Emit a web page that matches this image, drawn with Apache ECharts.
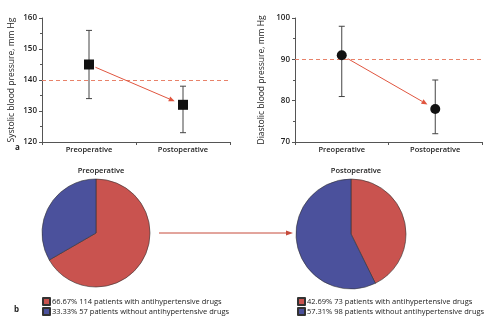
<!DOCTYPE html>
<html>
<head>
<meta charset="utf-8">
<script src="https://cdn.jsdelivr.net/npm/echarts@6/dist/echarts.min.js"></script>
<style>
  html, body { margin: 0; padding: 0; background: #fff; }
  #chart { width: 496px; height: 331px; }
</style>
</head>
<body>
<div id="chart"></div>
<script>
const bpCategories = ['Preoperative', 'Postoperative'];

const sysMean = [145, 132];
const sysLow = [134, 123];
const sysHigh = [156, 138];
const sysThreshold = 140;

const diaMean = [91, 78];
const diaLow = [81, 72];
const diaHigh = [98, 85];
const diaThreshold = 90;

const pieGroups = ['patients with antihypertensive drugs', 'patients without antihypertensive drugs'];
const prePercent = ['66.67%', '33.33%'];
const preCounts = [114, 57];
const postPercent = ['42.69%', '57.31%'];
const postCounts = [73, 98];

const FONT = '"Open Sans", sans-serif';
const AXIS_COLOR = '#555';
const RED = '#c9534f';
const BLUE = '#4b519c';
const ARROW = '#e0553f';
const DASH = '#e8826a';

const chart = echarts.init(document.getElementById('chart'));

// vertical whisker with small caps, drawn from low/high values
const errorBarItem = (params, api) => {
  const x = api.value(0);
  const top = api.coord([x, api.value(2)]);
  const bottom = api.coord([x, api.value(1)]);
  const cap = 3;
  const style = { stroke: '#444', lineWidth: 1 };
  return {
    type: 'group',
    children: [
      { type: 'line', shape: { x1: top[0], y1: top[1], x2: bottom[0], y2: bottom[1] }, style },
      { type: 'line', shape: { x1: top[0] - cap, y1: top[1], x2: top[0] + cap, y2: top[1] }, style },
      { type: 'line', shape: { x1: bottom[0] - cap, y1: bottom[1], x2: bottom[0] + cap, y2: bottom[1] }, style },
    ],
  };
};

// dashed horizontal threshold across the whole grid
const thresholdItem = (params, api) => {
  const sys = params.coordSys;
  const y = Math.round(api.coord([0, api.value(0)])[1]) + 0.5;
  return {
    type: 'line',
    shape: { x1: sys.x, y1: y, x2: sys.x + sys.width, y2: y },
    style: { stroke: DASH, lineWidth: 1, lineDash: [4, 3] },
  };
};

// arrow from one mean to the other, pulled back from the markers
const arrowItem = (params, api) => {
  const a = api.coord([api.value(0), api.value(1)]);
  const b = api.coord([api.value(2), api.value(3)]);
  const dx = b[0] - a[0];
  const dy = b[1] - a[1];
  const len = Math.sqrt(dx * dx + dy * dy);
  const ux = dx / len;
  const uy = dy / len;
  const s = [a[0] + ux * 7, a[1] + uy * 7];
  const e = [b[0] - ux * 9, b[1] - uy * 9];
  const head = 6;
  const w = 2.5;
  const base = [e[0] - ux * head, e[1] - uy * head];
  return {
    type: 'group',
    children: [
      { type: 'line', shape: { x1: s[0], y1: s[1], x2: base[0], y2: base[1] }, style: { stroke: ARROW, lineWidth: 1 } },
      {
        type: 'polygon',
        shape: { points: [e, [base[0] - uy * w, base[1] + ux * w], [base[0] + uy * w, base[1] - ux * w]] },
        style: { fill: ARROW },
      },
    ],
  };
};

const yAxisBase = (min, max, name, nameGap, gridIndex) => ({
  type: 'value',
  gridIndex,
  min,
  max,
  interval: 10,
  name,
  nameLocation: 'middle',
  nameGap,
  nameTextStyle: { fontFamily: FONT, fontSize: 8.5, color: '#222' },
  axisLine: { show: true, lineStyle: { color: AXIS_COLOR } },
  axisTick: { show: true, length: 3, lineStyle: { color: AXIS_COLOR } },
  minorTick: { show: true, splitNumber: 2, length: 2, lineStyle: { color: AXIS_COLOR } },
  axisLabel: { fontFamily: FONT, fontSize: 8, fontWeight: 600, color: '#222', margin: 5 },
  splitLine: { show: false },
});

const xAxisBase = (gridIndex) => ({
  type: 'category',
  gridIndex,
  data: bpCategories,
  axisLine: { lineStyle: { color: AXIS_COLOR } },
  axisTick: { show: true, length: 3, lineStyle: { color: AXIS_COLOR } },
  axisLabel: { fontFamily: FONT, fontSize: 7.5, fontWeight: 600, color: '#222', margin: 4 },
});

const pieData = (percents, counts) =>
  pieGroups.map((g, i) => ({
    name: `${percents[i]} ${counts[i]} ${g}`,
    value: counts[i],
    itemStyle: { color: i === 0 ? RED : BLUE },
  }));

const preData = pieData(prePercent, preCounts);
const postData = pieData(postPercent, postCounts);

const legendBase = (left, data) => ({
  left,
  top: 297,
  padding: 0,
  orient: 'vertical',
  itemWidth: 7,
  itemHeight: 7,
  itemGap: 1,
  icon: 'rect',
  data: data.map((d) => d.name),
  textStyle: { fontFamily: FONT, fontSize: 7.5, color: '#222', padding: [0, 0, 0, -3] },
});

chart.setOption({
  animation: false,
  title: [
    { text: 'Preoperative', left: 96, top: 162, textAlign: 'center', textStyle: { fontFamily: FONT, fontSize: 7.5, fontWeight: 600, color: '#222' } },
    { text: 'Postoperative', left: 351, top: 162, textAlign: 'center', textStyle: { fontFamily: FONT, fontSize: 7.5, fontWeight: 600, color: '#222' } },
  ],
  grid: [
    { left: 42, top: 18, width: 188, height: 124 },
    { left: 295, top: 18, width: 187, height: 124 },
  ],
  xAxis: [xAxisBase(0), xAxisBase(1)],
  yAxis: [
    yAxisBase(120, 160, 'Systolic blood pressure, mm Hg', 26, 0),
    yAxisBase(70, 100, 'Diastolic blood pressure, mm Hg', 29, 1),
  ],
  legend: [legendBase(42, preData), legendBase(297, postData)],
  series: [
    {
      type: 'custom',
      xAxisIndex: 0,
      yAxisIndex: 0,
      renderItem: thresholdItem,
      data: [[sysThreshold]],
      encode: { y: 0 },
      silent: true,
      z: 1,
    },
    {
      type: 'custom',
      xAxisIndex: 1,
      yAxisIndex: 1,
      renderItem: thresholdItem,
      data: [[diaThreshold]],
      encode: { y: 0 },
      silent: true,
      z: 1,
    },
    {
      type: 'custom',
      xAxisIndex: 0,
      yAxisIndex: 0,
      renderItem: errorBarItem,
      data: bpCategories.map((c, i) => [i, sysLow[i], sysHigh[i]]),
      z: 2,
    },
    {
      type: 'custom',
      xAxisIndex: 1,
      yAxisIndex: 1,
      renderItem: errorBarItem,
      data: bpCategories.map((c, i) => [i, diaLow[i], diaHigh[i]]),
      z: 2,
    },
    {
      type: 'scatter',
      xAxisIndex: 0,
      yAxisIndex: 0,
      symbol: 'rect',
      symbolSize: 10,
      itemStyle: { color: '#111', opacity: 1 },
      data: sysMean,
      z: 3,
    },
    {
      type: 'scatter',
      xAxisIndex: 1,
      yAxisIndex: 1,
      symbol: 'circle',
      symbolSize: 10,
      itemStyle: { color: '#111', opacity: 1 },
      data: diaMean,
      z: 3,
    },
    {
      type: 'custom',
      xAxisIndex: 0,
      yAxisIndex: 0,
      renderItem: arrowItem,
      data: [[0, sysMean[0], 1, sysMean[1]]],
      z: 4,
    },
    {
      type: 'custom',
      xAxisIndex: 1,
      yAxisIndex: 1,
      renderItem: arrowItem,
      data: [[0, diaMean[0], 1, diaMean[1]]],
      z: 4,
    },
    {
      type: 'pie',
      center: [96, 233],
      radius: 54,
      startAngle: 90,
      clockwise: true,
      label: { show: false },
      labelLine: { show: false },
      itemStyle: { borderColor: '#333', borderWidth: 0.6 },
      data: preData,
    },
    {
      type: 'pie',
      center: [351, 234],
      radius: 55,
      startAngle: 90,
      clockwise: true,
      label: { show: false },
      labelLine: { show: false },
      itemStyle: { borderColor: '#333', borderWidth: 0.6 },
      data: postData,
    },
  ],
  graphic: [
    { type: 'line', shape: { x1: 159, y1: 233, x2: 288, y2: 233 }, style: { stroke: '#c64a3a', lineWidth: 1 } },
    { type: 'polygon', shape: { points: [[293, 233], [286, 230.5], [286, 235.5]] }, style: { fill: '#c64a3a' } },
    { type: 'text', left: 15, top: 144, style: { text: 'a', font: `bold 8px ${FONT}`, fill: '#222' } },
    { type: 'text', left: 14, top: 306, style: { text: 'b', font: `bold 8px ${FONT}`, fill: '#222' } },
  ],
});

window.addEventListener('resize', () => chart.resize());
</script>
</body>
</html>
